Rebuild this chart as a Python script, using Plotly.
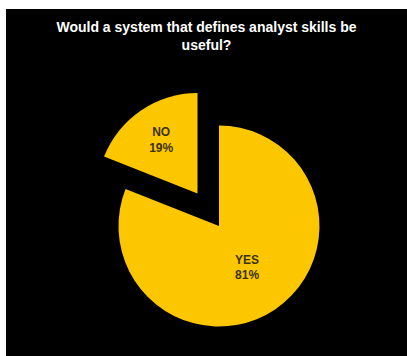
import plotly.graph_objects as go

# Data
labels = ["YES", "NO"]
values = [81, 19]
title_text = "Would a system that defines analyst skills be<br>useful?"

YELLOW = "#FDC700"
CLEAR = "rgba(0,0,0,0)"
TEXT_DARK = "#3a3414"

fig = go.Figure()

# YES slice (NO slot transparent)
fig.add_trace(go.Pie(
    labels=labels, values=values, sort=False, direction="clockwise",
    marker=dict(colors=[YELLOW, CLEAR], line=dict(width=0)),
    texttemplate=["%{label}<br>%{percent}", ""],
    textposition="inside", insidetextorientation="horizontal",
    textfont=dict(family="Liberation Sans", size=12, color=TEXT_DARK, weight="bold"),
    domain=dict(x=[0.2805, 0.7818], y=[0.0850, 0.6643]),
    showlegend=False, hoverinfo="skip",
))

# NO slice, exploded (YES slot transparent)
fig.add_trace(go.Pie(
    labels=labels, values=values, sort=False, direction="clockwise",
    marker=dict(colors=[CLEAR, YELLOW], line=dict(width=0)),
    texttemplate=["", "%{label}<br>%{percent}"],
    textposition="inside", insidetextorientation="horizontal",
    textfont=dict(family="Liberation Sans", size=12, color=TEXT_DARK, weight="bold"),
    domain=dict(x=[0.2269, 0.7282], y=[0.1787, 0.7579]),
    showlegend=False, hoverinfo="skip",
))

fig.add_shape(type="rect", xref="paper", yref="paper", x0=0, x1=1.05, y0=-0.05, y1=1,
              fillcolor="black", line=dict(width=0), layer="below")

fig.update_layout(
    width=407, height=356,
    margin=dict(l=6, r=0, t=9, b=0),
    paper_bgcolor="white",
    plot_bgcolor="black",
    title=dict(text=title_text, x=0.5, xref="paper", xanchor="center",
               y=1 - 32 / 356, yref="container", yanchor="top",
               font=dict(family="Liberation Sans", size=14, color="white", weight="bold")),
)

fig.write_html("out.html", config={"displayModeBar": False},
               post_script="document.body.style.margin='0px';")
